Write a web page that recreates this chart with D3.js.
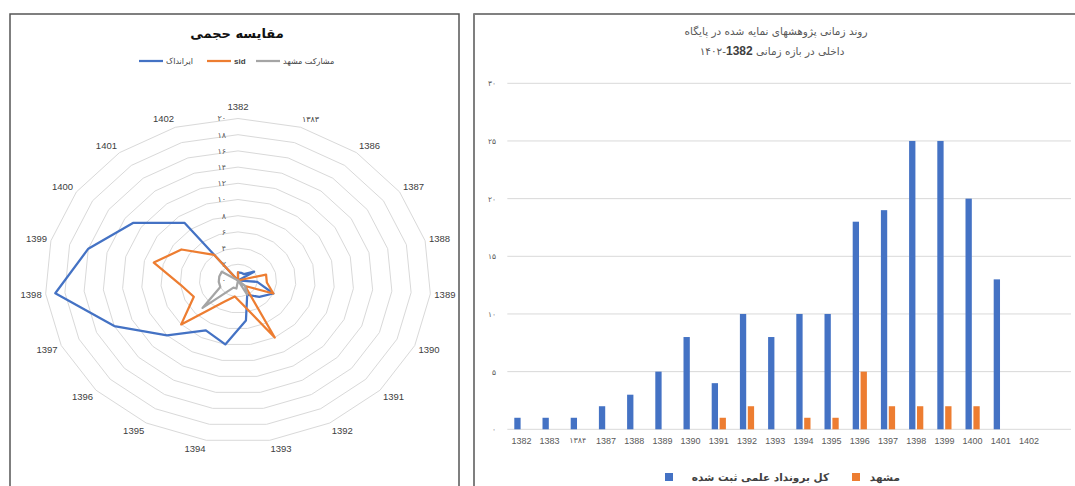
<!DOCTYPE html>
<html>
<head>
<meta charset="utf-8">
<script src="https://cdn.jsdelivr.net/npm/d3@7"></script>
<style>
  body { margin: 0; background: #fff; }
  svg { display: block; }
</style>
</head>
<body>
<svg width="1075" height="486"></svg>
<script>
// Radar chart data (left panel)
const radarCats = ["1382", "۱۳۸۳", "1386", "1387", "1388", "1389", "1390", "1391", "1392", "1393",
  "1394", "1395", "1396", "1397", "1398", "1399", "1400", "1401", "1402"];
const irandocVals = [1, 1, 1, 2, 0, 2, 4, 3, 2, 5, 8, 7, 10, 14, 19, 16, 13, 9, 0];
const sidVals = [1, 0, 0, 0, 3, 3, 4, 1, 8, 3, 2, 3, 8, 5, 6, 9, 7, 4, 0];
const mashhadShareVals = [0, 0, 0, 0, 0, 0, 0, 1, 2, 0, 1, 1, 5, 2, 2, 2, 2, 0, 0];
const radarTicks = [0, 2, 4, 6, 8, 10, 12, 14, 16, 18, 20];
const radarTickLabels = ["۰", "۲", "۴", "۶", "۸", "۱۰", "۱۲", "۱۴", "۱۶", "۱۸", "۲۰"];
const radarSeriesNames = ["ایرانداک", "sid", "مشارکت مشهد"];

// Bar chart data (right panel)
const barCats = ["1382", "1383", "۱۳۸۴", "1387", "1388", "1389", "1390", "1391", "1392", "1393",
  "1394", "1395", "1396", "1397", "1398", "1399", "1400", "1401", "1402"];
const totalVals = [1, 1, 1, 2, 3, 5, 8, 4, 10, 8, 10, 10, 18, 19, 25, 25, 20, 13, 0];
const mashhadVals = [0, 0, 0, 0, 0, 0, 0, 1, 2, 0, 1, 1, 5, 2, 2, 2, 2, 0, 0];
const barTicks = [0, 5, 10, 15, 20, 25, 30];
const barTickLabels = ["۰", "۵", "۱۰", "۱۵", "۲۰", "۲۵", "۳۰"];
const barSeriesNames = ["کل برونداد علمی ثبت شده", "مشهد"];

const BLUE = "#4472C4", ORANGE = "#ED7D31", GREY = "#A5A5A5";
const arFont = "'DejaVu Sans', sans-serif";
const latFont = "'Liberation Sans', Arial, sans-serif";
const hasFaDigit = s => /[۰-۹]/.test(s);

const svg = d3.select("svg");

// Panel frames
svg.append("rect")
  .attr("x", 10).attr("y", 14).attr("width", 449).attr("height", 500)
  .attr("fill", "none").attr("stroke", "#555").attr("stroke-width", 1.5);
svg.append("rect")
  .attr("x", 474).attr("y", 14).attr("width", 650).attr("height", 500)
  .attr("fill", "none").attr("stroke", "#555").attr("stroke-width", 1.5);
svg.append("line")
  .attr("x1", 474).attr("x2", 1075).attr("y1", 14).attr("y2", 14)
  .attr("stroke", "#808080").attr("stroke-width", 2);

// ---------- Radar chart ----------
const cx = 238, cy = 280.5;
const angle = d3.scaleBand().domain(radarCats).range([0, 2 * Math.PI]);
const rX = d3.scaleLinear().domain([0, 20]).range([0, 193]);
const rY = d3.scaleLinear().domain([0, 20]).range([0, 162]);
const px = (c, v) => cx + rX(v) * Math.sin(angle(c));
const py = (c, v) => cy - rY(v) * Math.cos(angle(c));

const radar = svg.append("g");

// rings
radar.append("g")
  .selectAll("path")
  .data(radarTicks.filter(t => t > 0))
  .join("path")
  .attr("d", t => d3.line().curve(d3.curveLinearClosed)(radarCats.map(c => [px(c, t), py(c, t)])))
  .attr("fill", "none")
  .attr("stroke", "#d9d9d9")
  .attr("stroke-width", 1);

// value labels on the first spoke
radar.append("g")
  .selectAll("text")
  .data(radarTicks)
  .join("text")
  .attr("x", 226)
  .attr("y", t => cy - rY(t))
  .attr("dy", "0.35em")
  .attr("text-anchor", "end")
  .attr("font-family", arFont)
  .attr("font-size", 8)
  .attr("fill", "#595959")
  .text((t, i) => radarTickLabels[i]);

// category labels
radar.append("g")
  .selectAll("text")
  .data(radarCats)
  .join("text")
  .attr("x", c => px(c, 20) + 4 * Math.sin(angle(c)))
  .attr("y", c => Math.abs(Math.sin(angle(c))) < 0.01 ? py(c, 20) - 12 : py(c, 20) - 9 * Math.cos(angle(c)))
  .attr("dy", "0.35em")
  .attr("text-anchor", c => {
    const s = Math.sin(angle(c));
    return s > 0.01 ? "start" : (s < -0.01 ? "end" : "middle");
  })
  .attr("font-family", c => hasFaDigit(c) ? arFont : latFont)
  .attr("font-size", c => hasFaDigit(c) ? 8 : 9.5)
  .attr("fill", "#404040")
  .text(c => c);

const radarSeries = [irandocVals, sidVals, mashhadShareVals];
const radarColors = [BLUE, ORANGE, GREY];
radar.append("g")
  .selectAll("path")
  .data(radarSeries)
  .join("path")
  .attr("d", vals => d3.line().curve(d3.curveLinearClosed)(radarCats.map((c, i) => [px(c, vals[i]), py(c, vals[i])])))
  .attr("fill", "none")
  .attr("stroke", (d, i) => radarColors[i])
  .attr("stroke-width", 2.25)
  .attr("stroke-linejoin", "round");

// title
svg.append("text")
  .attr("x", 237).attr("y", 33).attr("dy", "0.35em")
  .attr("text-anchor", "middle")
  .attr("font-family", arFont).attr("font-size", 13).attr("font-weight", "bold")
  .attr("fill", "#111")
  .text("مقایسه حجمی");

// legend (line then label, drawn right to left)
const radarLegendX = [139, 207, 256];
const radarLegend = svg.append("g")
  .selectAll("g")
  .data(radarSeriesNames)
  .join("g")
  .attr("transform", (d, i) => `translate(${radarLegendX[i]},61)`);
radarLegend.append("line")
  .attr("x1", 0).attr("x2", 24)
  .attr("stroke", (d, i) => radarColors[i]).attr("stroke-width", 2.25);
radarLegend.append("text")
  .attr("x", 27).attr("dy", "0.35em")
  .attr("font-family", (d, i) => i === 1 ? latFont : arFont)
  .attr("font-weight", (d, i) => i === 1 ? "bold" : "normal")
  .attr("font-size", 8)
  .attr("fill", "#404040")
  .text(d => d);

// ---------- Bar chart ----------
const plotLeft = 507.3, plotRight = 1071;
const x = d3.scaleBand().domain(barCats).range([plotLeft, plotLeft + 28.2 * barCats.length]);
const xSub = d3.scaleBand().domain(["total", "mashhad"]).range([7, 21.2]).paddingInner(0.2);
const y = d3.scaleLinear().domain([0, 30]).range([429.3, 83.3]);

const bar = svg.append("g");

bar.append("g")
  .selectAll("line")
  .data(barTicks)
  .join("line")
  .attr("x1", plotLeft).attr("x2", plotRight)
  .attr("y1", t => y(t)).attr("y2", t => y(t))
  .attr("stroke", "#d9d9d9").attr("stroke-width", 1);

const yAxis = bar.append("g")
  .attr("transform", "translate(496,0)")
  .call(d3.axisLeft(y).tickValues(barTicks).tickSize(0).tickPadding(0)
    .tickFormat((t, i) => barTickLabels[i]));
yAxis.select(".domain").remove();
yAxis.selectAll("text")
  .attr("font-family", arFont).attr("font-size", 7.5).attr("fill", "#595959");

const xAxis = bar.append("g")
  .attr("transform", "translate(0,429.3)")
  .call(d3.axisBottom(x).tickSize(0).tickPadding(8));
xAxis.select(".domain").remove();
xAxis.selectAll("text")
  .attr("font-family", c => hasFaDigit(c) ? arFont : latFont)
  .attr("font-size", c => hasFaDigit(c) ? 8 : 9)
  .attr("fill", "#595959");

const barSeries = [totalVals, mashhadVals];
const barColors = [BLUE, ORANGE];
const subKeys = ["total", "mashhad"];
barSeries.forEach((vals, s) => {
  bar.append("g")
    .selectAll("rect")
    .data(barCats.map((c, i) => ({ c, v: vals[i] })).filter(d => d.v > 0))
    .join("rect")
    .attr("x", d => x(d.c) + xSub(subKeys[s]))
    .attr("width", xSub.bandwidth())
    .attr("y", d => y(d.v))
    .attr("height", d => y(0) - y(d.v))
    .attr("fill", barColors[s]);
});

// title (two lines)
svg.append("text")
  .attr("x", 776).attr("y", 31).attr("dy", "0.35em")
  .attr("text-anchor", "middle").attr("direction", "rtl")
  .attr("font-family", arFont).attr("font-size", 10.5).attr("fill", "#595959")
  .text("روند زمانی پژوهشهای نمایه شده در پایگاه");
const t2 = svg.append("text")
  .attr("x", 772).attr("y", 51).attr("dy", "0.35em")
  .attr("text-anchor", "middle").attr("direction", "rtl")
  .attr("font-family", arFont).attr("font-size", 10.5).attr("fill", "#595959");
t2.append("tspan").text("داخلی در بازه زمانی ");
t2.append("tspan").attr("font-weight", "bold").attr("font-size", 12)
  .attr("font-family", latFont).attr("fill", "#404040").text("1382");
t2.append("tspan").text("-۱۴۰۲");

// bottom legend
const barLegendSq = [665, 852];
const barLegendTextEnd = [829, 900];
const barLegend = svg.append("g")
  .selectAll("g")
  .data(barSeriesNames)
  .join("g");
barLegend.append("rect")
  .attr("x", (d, i) => barLegendSq[i]).attr("y", 473)
  .attr("width", 8).attr("height", 8)
  .attr("fill", (d, i) => barColors[i]);
barLegend.append("text")
  .attr("x", (d, i) => barLegendTextEnd[i]).attr("y", 477).attr("dy", "0.35em")
  .attr("text-anchor", "end")
  .attr("font-family", arFont).attr("font-size", 10.5).attr("font-weight", "bold")
  .attr("fill", "#404040")
  .text(d => d);
</script>
</body>
</html>
